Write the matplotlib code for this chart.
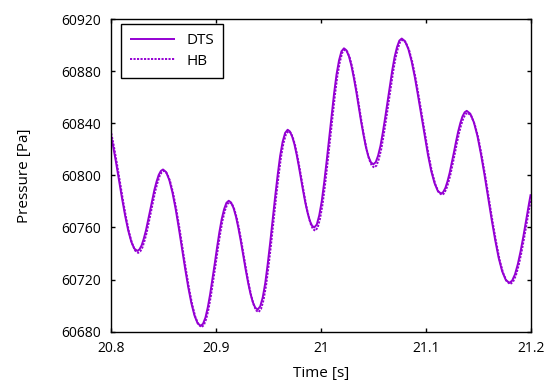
import matplotlib
matplotlib.use("Agg")
import matplotlib.pyplot as plt

# Time [s] and pressure [Pa]
time_dts = [
    20.8000, 20.8016, 20.8045, 20.8074, 20.8103, 20.8132, 20.8161, 20.8190, 20.8219, 20.8248,
    20.8268, 20.8289, 20.8309, 20.8330, 20.8350, 20.8371, 20.8391, 20.8411, 20.8432, 20.8452,
    20.8473, 20.8493, 20.8523, 20.8553, 20.8583, 20.8613, 20.8643, 20.8673, 20.8703, 20.8733,
    20.8763, 20.8793, 20.8823, 20.8853, 20.8875, 20.8898, 20.8920, 20.8942, 20.8964, 20.8987,
    20.9009, 20.9031, 20.9053, 20.9076, 20.9098, 20.9120, 20.9143, 20.9166, 20.9189, 20.9212,
    20.9235, 20.9258, 20.9281, 20.9304, 20.9327, 20.9350, 20.9373, 20.9396, 20.9420, 20.9444,
    20.9468, 20.9491, 20.9515, 20.9539, 20.9563, 20.9587, 20.9610, 20.9634, 20.9658, 20.9682,
    20.9703, 20.9724, 20.9746, 20.9767, 20.9788, 20.9809, 20.9830, 20.9851, 20.9873, 20.9894,
    20.9915, 20.9936, 20.9960, 20.9983, 21.0007, 21.0030, 21.0054, 21.0078, 21.0101, 21.0125,
    21.0148, 21.0172, 21.0195, 21.0219, 21.0242, 21.0266, 21.0289, 21.0312, 21.0336, 21.0359,
    21.0382, 21.0406, 21.0429, 21.0452, 21.0476, 21.0499, 21.0522, 21.0544, 21.0567, 21.0589,
    21.0612, 21.0635, 21.0657, 21.0680, 21.0702, 21.0725, 21.0747, 21.0770, 21.0801, 21.0833,
    21.0864, 21.0895, 21.0926, 21.0958, 21.0989, 21.1020, 21.1051, 21.1083, 21.1114, 21.1145,
    21.1165, 21.1186, 21.1206, 21.1227, 21.1247, 21.1268, 21.1288, 21.1308, 21.1329, 21.1349,
    21.1370, 21.1390, 21.1424, 21.1458, 21.1492, 21.1525, 21.1559, 21.1593, 21.1627, 21.1661,
    21.1694, 21.1728, 21.1762, 21.1796, 21.1823, 21.1850, 21.1877, 21.1904, 21.1931, 21.1958,
    21.1985, 21.2000]
pressure_dts = [
    60829.0, 60823.0, 60810.0, 60796.0, 60782.0, 60769.0, 60757.8, 60749.2, 60743.8, 60742.0,
    60743.1, 60746.2, 60751.2, 60757.6, 60765.2, 60773.3, 60781.3, 60788.9, 60795.3, 60800.3,
    60803.4, 60804.5, 60802.5, 60796.5, 60786.9, 60774.5, 60760.0, 60744.5, 60729.0, 60714.5,
    60702.1, 60692.5, 60686.5, 60684.5, 60686.1, 60690.9, 60698.6, 60708.5, 60720.1, 60732.5,
    60744.9, 60756.5, 60766.4, 60774.1, 60778.9, 60780.5, 60779.1, 60774.9, 60768.3, 60759.6,
    60749.6, 60738.8, 60727.9, 60717.9, 60709.2, 60702.6, 60698.4, 60697.0, 60699.4, 60706.2,
    60717.2, 60731.5, 60748.1, 60766.0, 60783.9, 60800.5, 60814.8, 60825.8, 60832.6, 60835.0,
    60833.7, 60830.0, 60824.0, 60816.2, 60807.2, 60797.5, 60787.8, 60778.8, 60771.0, 60765.0,
    60761.3, 60760.0, 60762.3, 60769.2, 60780.1, 60794.4, 60811.0, 60828.8, 60846.5, 60863.1,
    60877.4, 60888.3, 60895.2, 60897.5, 60896.0, 60891.5, 60884.5, 60875.3, 60864.5, 60853.0,
    60841.5, 60830.8, 60821.5, 60814.5, 60810.0, 60808.5, 60810.1, 60815.0, 60822.6, 60832.6,
    60844.3, 60856.8, 60869.2, 60880.9, 60890.9, 60898.5, 60903.4, 60905.0, 60903.0, 60897.0,
    60887.6, 60875.3, 60860.9, 60845.5, 60830.1, 60815.8, 60803.4, 60794.0, 60788.0, 60786.0,
    60787.1, 60790.3, 60795.3, 60801.9, 60809.5, 60817.8, 60826.0, 60833.6, 60840.2, 60845.2,
    60848.4, 60849.5, 60847.3, 60840.7, 60830.2, 60816.5, 60800.6, 60783.5, 60766.4, 60750.5,
    60736.8, 60726.3, 60719.8, 60717.5, 60719.2, 60724.0, 60731.8, 60741.9, 60753.6, 60766.3,
    60778.9, 60785.5]

time_hb = [
    20.8000, 20.8024, 20.8053, 20.8082, 20.8111, 20.8140, 20.8169, 20.8198, 20.8227, 20.8256,
    20.8276, 20.8297, 20.8317, 20.8338, 20.8358, 20.8379, 20.8399, 20.8419, 20.8440, 20.8460,
    20.8481, 20.8501, 20.8531, 20.8561, 20.8591, 20.8621, 20.8651, 20.8681, 20.8711, 20.8741,
    20.8771, 20.8801, 20.8831, 20.8861, 20.8883, 20.8906, 20.8928, 20.8950, 20.8972, 20.8995,
    20.9017, 20.9039, 20.9061, 20.9084, 20.9106, 20.9128, 20.9151, 20.9174, 20.9197, 20.9220,
    20.9243, 20.9266, 20.9289, 20.9312, 20.9335, 20.9358, 20.9381, 20.9404, 20.9428, 20.9452,
    20.9476, 20.9499, 20.9523, 20.9547, 20.9571, 20.9595, 20.9618, 20.9642, 20.9666, 20.9690,
    20.9711, 20.9732, 20.9754, 20.9775, 20.9796, 20.9817, 20.9838, 20.9859, 20.9881, 20.9902,
    20.9923, 20.9944, 20.9968, 20.9991, 21.0015, 21.0038, 21.0062, 21.0086, 21.0109, 21.0133,
    21.0156, 21.0180, 21.0203, 21.0227, 21.0250, 21.0274, 21.0297, 21.0320, 21.0344, 21.0367,
    21.0390, 21.0414, 21.0437, 21.0460, 21.0484, 21.0507, 21.0530, 21.0552, 21.0575, 21.0597,
    21.0620, 21.0643, 21.0665, 21.0688, 21.0710, 21.0733, 21.0755, 21.0778, 21.0809, 21.0841,
    21.0872, 21.0903, 21.0934, 21.0966, 21.0997, 21.1028, 21.1059, 21.1091, 21.1122, 21.1153,
    21.1173, 21.1194, 21.1214, 21.1235, 21.1255, 21.1276, 21.1296, 21.1316, 21.1337, 21.1357,
    21.1378, 21.1398, 21.1432, 21.1466, 21.1500, 21.1533, 21.1567, 21.1601, 21.1635, 21.1669,
    21.1702, 21.1736, 21.1770, 21.1804, 21.1831, 21.1858, 21.1885, 21.1912, 21.1939, 21.1966,
    21.1993, 21.2000]
pressure_hb = [
    60832.2, 60822.6, 60809.4, 60795.2, 60781.1, 60767.9, 60756.5, 60747.8, 60742.3, 60740.5,
    60741.6, 60744.7, 60749.8, 60756.2, 60763.9, 60772.0, 60780.1, 60787.8, 60794.2, 60799.3,
    60802.4, 60803.5, 60801.5, 60795.5, 60785.9, 60773.5, 60759.0, 60743.5, 60728.0, 60713.5,
    60701.1, 60691.5, 60685.5, 60683.5, 60685.1, 60689.9, 60697.6, 60707.5, 60719.1, 60731.5,
    60743.9, 60755.5, 60765.4, 60773.1, 60777.9, 60779.5, 60778.1, 60773.8, 60767.2, 60758.4,
    60748.2, 60737.3, 60726.3, 60716.2, 60707.4, 60700.7, 60696.4, 60695.0, 60697.4, 60704.3,
    60715.4, 60729.8, 60746.5, 60764.5, 60782.5, 60799.3, 60813.7, 60824.7, 60831.6, 60834.0,
    60832.7, 60828.9, 60822.8, 60814.8, 60805.6, 60795.8, 60785.9, 60776.7, 60768.7, 60762.6,
    60758.8, 60757.5, 60759.8, 60766.8, 60777.8, 60792.3, 60809.1, 60827.0, 60844.9, 60861.7,
    60876.2, 60887.2, 60894.2, 60896.5, 60895.0, 60890.4, 60883.3, 60873.9, 60862.9, 60851.3,
    60839.6, 60828.7, 60819.2, 60812.1, 60807.5, 60806.0, 60807.6, 60812.6, 60820.3, 60830.5,
    60842.4, 60855.0, 60867.6, 60879.5, 60889.7, 60897.4, 60902.4, 60904.0, 60902.0, 60896.0,
    60886.6, 60874.3, 60859.9, 60844.5, 60829.1, 60814.8, 60802.4, 60793.0, 60787.0, 60785.0,
    60786.1, 60789.3, 60794.2, 60800.8, 60808.3, 60816.5, 60824.7, 60832.2, 60838.8, 60843.7,
    60846.9, 60848.0, 60845.8, 60839.2, 60828.8, 60815.1, 60799.3, 60782.3, 60765.2, 60749.4,
    60735.7, 60725.3, 60718.8, 60716.5, 60718.2, 60723.0, 60730.8, 60740.9, 60752.6, 60765.3,
    60777.9, 60781.2]

x_ticks = [20.8, 20.9, 21.0, 21.1, 21.2]
x_tick_labels = ["20.8", "20.9", "21", "21.1", "21.2"]
y_ticks = [60680, 60720, 60760, 60800, 60840, 60880, 60920]
series_labels = ["DTS", "HB"]

plt.rcParams['font.family'] = ['Open Sans', 'DejaVu Sans']
plt.rcParams['font.size'] = 10

color = "#9400D3"
fig = plt.figure(figsize=(5.5, 3.85), dpi=100)
ax = fig.add_axes([111.3 / 550, 1 - 331.7 / 385, (530.7 - 111.3) / 550, (331.7 - 19) / 385])

ax.plot(time_dts, pressure_dts, color=color, lw=1.4, label=series_labels[0],
        solid_joinstyle='round', solid_capstyle='butt')
ax.plot(time_hb, pressure_hb, color=color, lw=1.4, linestyle=(0, (1.1, 0.7)),
        label=series_labels[1])

ax.set_xlim(20.8, 21.2)
ax.set_ylim(60680, 60920)
ax.set_xticks(x_ticks)
ax.set_xticklabels(x_tick_labels)
ax.set_yticks(y_ticks)
ax.tick_params(direction='in', length=3, width=1.0, top=True, right=True, colors='black',
               labelsize=10)
ax.tick_params(axis='x', pad=7)
ax.tick_params(axis='y', pad=7.5)
for s in ax.spines.values():
    s.set_linewidth(1.0)

ax.set_xlabel("Time [s]", fontsize=11, labelpad=7)
ax.set_ylabel("Pressure [Pa]", fontsize=11, labelpad=21)

leg = ax.legend(loc='upper left', bbox_to_anchor=(10 / 419.4, 1 - 5 / 312.7),
                borderaxespad=0, fancybox=False, edgecolor='black', framealpha=1,
                fontsize=11, handlelength=2.94, handletextpad=0.72, borderpad=0.6,
                labelspacing=0.35)
leg.get_frame().set_linewidth(1.0)

fig.savefig("out.png", dpi=100)
